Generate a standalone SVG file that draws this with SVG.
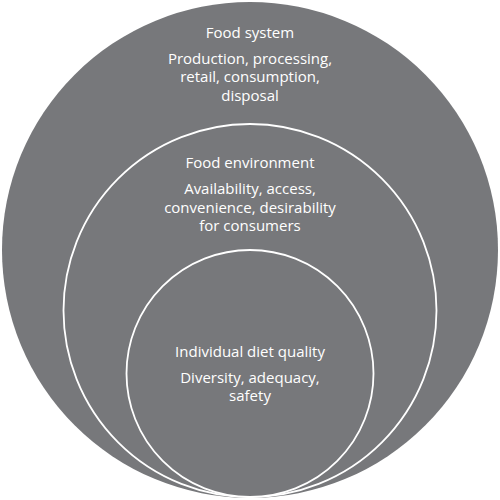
<svg xmlns="http://www.w3.org/2000/svg" width="500" height="500" viewBox="0 0 500 500">
<style>
.c{fill:#77787b;stroke:#ffffff;stroke-width:1.8}
.o{fill:#77787b;stroke:none}
text{font-family:"Open Sans","Noto Sans","DejaVu Sans",sans-serif;font-size:15px;fill:#ffffff;text-anchor:middle}
</style>
<rect width="500" height="500" fill="#ffffff"/>
<g id="food-system">
<circle class="o" cx="250" cy="250" r="248"/>
<text x="250" y="38">Food system</text>
<text x="250" y="63.5">Production, processing,<tspan x="250" dy="18.5">retail, consumption,</tspan><tspan x="250" dy="18.5">disposal</tspan></text>
</g>
<g id="food-environment">
<circle class="c" cx="250" cy="310.5" r="186.5"/>
<text x="250" y="168">Food environment</text>
<text x="250" y="194">Availability, access,<tspan x="250" dy="18.5">convenience, desirability</tspan><tspan x="250" dy="18.5">for consumers</tspan></text>
</g>
<g id="individual-diet-quality">
<circle class="c" cx="250" cy="373.5" r="123.5"/>
<text x="250" y="357">Individual diet quality</text>
<text x="250" y="382.5">Diversity, adequacy,<tspan x="250" dy="18.5">safety</tspan></text>
</g>
<g id="connectors"/>
</svg>
